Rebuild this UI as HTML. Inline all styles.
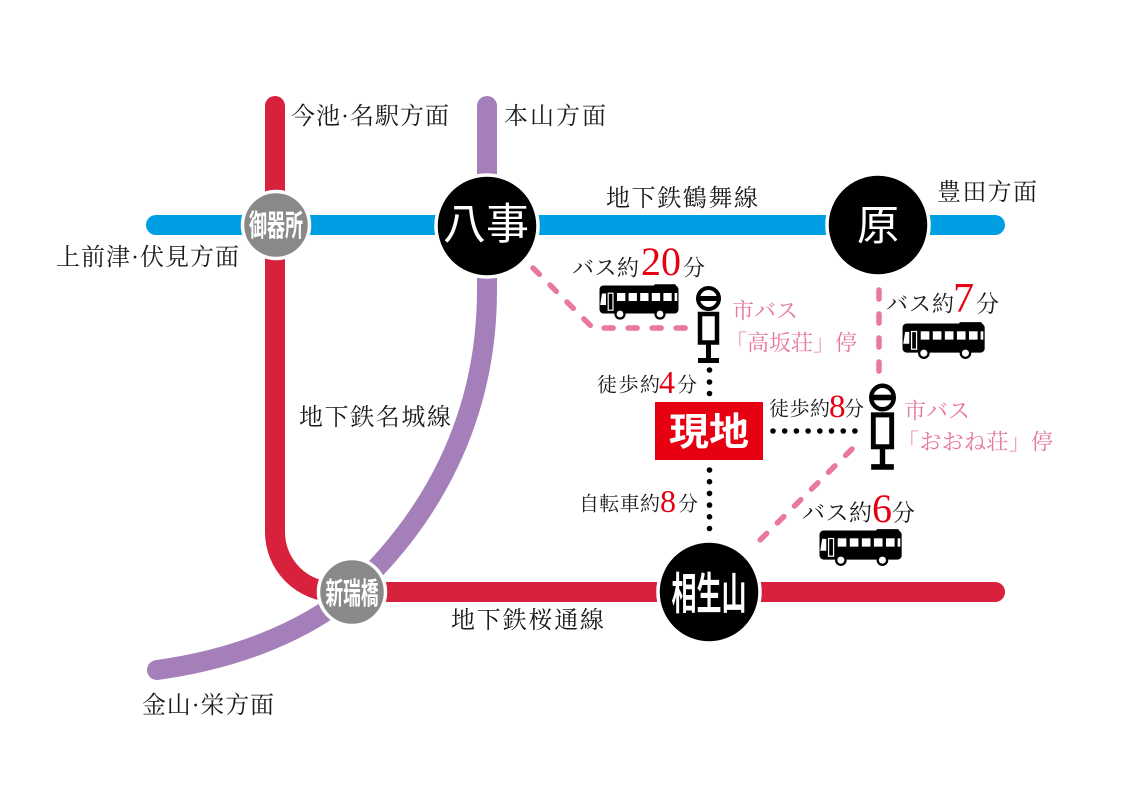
<!DOCTYPE html>
<html><head><meta charset="utf-8">
<style>
html,body{margin:0;padding:0;background:#fff;}
svg{display:block;}
.lb{font-family:"Liberation Serif","Noto Serif CJK SC",serif;fill:#1a1a1a;}
.pk{font-family:"Liberation Serif","Noto Serif CJK SC",serif;fill:#e5789b;}
.dg{font-family:"Liberation Serif",serif;fill:#e60012;}
.st{font-family:"Liberation Sans","Noto Sans CJK JP",sans-serif;fill:#fff;}
</style></head>
<body>
<svg width="1131" height="800" viewBox="0 0 1131 800" xmlns="http://www.w3.org/2000/svg">
<defs>
  <g id="bus">
    <rect x="0.5" y="0.5" width="79" height="28" rx="4" fill="#000"/>
    <rect x="55" y="-0.8" width="22" height="4" rx="1.5" fill="#000"/>
    <polygon points="1.2,20 3,8.5 7,8.5 7,20" fill="#fff"/>
    <rect x="9.2" y="8.2" width="4.8" height="17" fill="none" stroke="#fff" stroke-width="1.2"/>
    <rect x="18" y="8" width="8.3" height="8" fill="#fff"/>
    <rect x="29.6" y="8" width="8.3" height="8" fill="#fff"/>
    <rect x="41.2" y="8" width="8.3" height="8" fill="#fff"/>
    <rect x="52.8" y="8" width="8.3" height="8" fill="#fff"/>
    <rect x="64.4" y="8" width="8.3" height="8" fill="#fff"/>
    <rect x="75.6" y="8" width="2.6" height="8" fill="#fff"/>
    <circle cx="21" cy="29" r="5.6" fill="#000"/>
    <circle cx="21" cy="29" r="3.4" fill="#fff"/>
    <circle cx="61" cy="29" r="5.6" fill="#000"/>
    <circle cx="61" cy="29" r="3.4" fill="#fff"/>
  </g>
  <g id="stop">
    <circle cx="0" cy="0" r="10.5" fill="#fff" stroke="#000" stroke-width="4"/>
    <rect x="-11" y="-2.5" width="22" height="5" fill="#000"/>
    <rect x="-8.5" y="15.5" width="17" height="28.5" fill="#fff" stroke="#000" stroke-width="4.5"/>
    <rect x="-2.5" y="46" width="5" height="15" fill="#000"/>
    <rect x="-10.5" y="59.5" width="21" height="5" fill="#000"/>
  </g>
</defs>

<rect x="0" y="0" width="1131" height="800" fill="#fff"/>

<!-- subway lines -->
<path d="M275,106 L275,532 A60,60 0 0 0 335,592 L995,592" fill="none" stroke="#d8213c" stroke-width="20" stroke-linecap="round"/>
<path d="M487,106 L487,290 C487,420 430,520 352,592 C300,635 230,660 157,670" fill="none" stroke="#a47fb9" stroke-width="20" stroke-linecap="round"/>
<path d="M156,225 L995,225" fill="none" stroke="#009fe3" stroke-width="20" stroke-linecap="round"/>

<!-- pink dashed bus routes -->
<g fill="none" stroke="#e8799c" stroke-width="5.5" stroke-linecap="round" stroke-dasharray="9 15">
  <path d="M533,268 L593,328 L693,328"/>
  <path d="M879,290 L879,377"/>
  <path d="M852,449 L750,550"/>
</g>

<!-- black dotted walking/bike -->
<g fill="#000">
  <circle cx="709.5" cy="370" r="2.8"/>
  <circle cx="709.5" cy="382" r="2.8"/>
  <circle cx="709.5" cy="393.5" r="2.8"/>
  <circle cx="709.5" cy="470" r="2.8"/>
  <circle cx="709.5" cy="481.7" r="2.8"/>
  <circle cx="709.5" cy="493.4" r="2.8"/>
  <circle cx="709.5" cy="505.1" r="2.8"/>
  <circle cx="709.5" cy="516.8" r="2.8"/>
  <circle cx="709.5" cy="528.5" r="2.8"/>
  <circle cx="773" cy="431" r="2.8"/>
  <circle cx="784.7" cy="431" r="2.8"/>
  <circle cx="796.4" cy="431" r="2.8"/>
  <circle cx="808.1" cy="431" r="2.8"/>
  <circle cx="819.8" cy="431" r="2.8"/>
  <circle cx="831.5" cy="431" r="2.8"/>
  <circle cx="843.2" cy="431" r="2.8"/>
  <circle cx="854.9" cy="431" r="2.8"/>
</g>

<!-- stations -->
<circle cx="276" cy="225" r="33.5" fill="#898989" stroke="#fff" stroke-width="3.5"/>
<circle cx="352" cy="592" r="33.5" fill="#898989" stroke="#fff" stroke-width="3.5"/>
<circle cx="487" cy="226" r="51" fill="#000" stroke="#fff" stroke-width="3.5"/>
<circle cx="878" cy="225" r="51" fill="#000" stroke="#fff" stroke-width="3.5"/>
<circle cx="709" cy="592" r="51" fill="#000" stroke="#fff" stroke-width="3.5"/>

<text class="st" x="276" y="236" font-size="30" font-weight="700" text-anchor="middle" textLength="54" lengthAdjust="spacingAndGlyphs">御器所</text>
<text class="st" x="352" y="604" font-size="30" font-weight="700" text-anchor="middle" textLength="53" lengthAdjust="spacingAndGlyphs">新瑞橋</text>
<text class="st" x="709" y="609" font-size="44" font-weight="700" text-anchor="middle" textLength="75" lengthAdjust="spacingAndGlyphs">相生山</text>
<text class="st" x="486" y="239" font-size="43" font-weight="400" text-anchor="middle" textLength="86" lengthAdjust="spacing">八事</text>
<text class="st" x="878" y="240" font-size="42" font-weight="400" text-anchor="middle">原</text>

<!-- 現地 -->
<rect x="655" y="402" width="108" height="58" fill="#e60012"/>
<text class="st" x="709" y="445" font-size="38" font-weight="700" text-anchor="middle" textLength="80" lengthAdjust="spacingAndGlyphs">現地</text>

<!-- bus stops -->
<use href="#stop" transform="translate(708.5,298.5)"/>
<use href="#stop" transform="translate(882.5,397.5) scale(1.08,1.12)"/>

<!-- buses -->
<use href="#bus" transform="translate(599,285)"/>
<use href="#bus" transform="translate(902,323) scale(1.04)"/>
<use href="#bus" transform="translate(819,530) scale(1.04)"/>

<!-- direction / line labels -->
<text class="lb" x="291" y="124" font-size="24" textLength="158" lengthAdjust="spacing">今池·名駅方面</text>
<text class="lb" x="504" y="124" font-size="24" textLength="102" lengthAdjust="spacing">本山方面</text>
<text class="lb" x="606" y="206" font-size="24" textLength="152" lengthAdjust="spacing">地下鉄鶴舞線</text>
<text class="lb" x="937" y="200" font-size="24" textLength="100" lengthAdjust="spacing">豊田方面</text>
<text class="lb" x="56" y="265" font-size="24" textLength="183" lengthAdjust="spacing">上前津·伏見方面</text>
<text class="lb" x="299" y="425" font-size="24" textLength="152" lengthAdjust="spacing">地下鉄名城線</text>
<text class="lb" x="451" y="628" font-size="24" textLength="153" lengthAdjust="spacing">地下鉄桜通線</text>
<text class="lb" x="142" y="713" font-size="24" textLength="132" lengthAdjust="spacing">金山·栄方面</text>

<!-- bus 20 -->
<text class="lb" x="572" y="275.5" font-size="22" textLength="67" lengthAdjust="spacing">バス約</text>
<text class="dg" x="641" y="275" font-size="40">20</text>
<text class="lb" x="683" y="275.5" font-size="22">分</text>

<!-- bus 7 -->
<text class="lb" x="886" y="311.5" font-size="22" textLength="68" lengthAdjust="spacing">バス約</text>
<text class="dg" x="953" y="312" font-size="42">7</text>
<text class="lb" x="976" y="311.5" font-size="23">分</text>

<!-- walk 4 -->
<text class="lb" x="597" y="391.5" font-size="20" textLength="63" lengthAdjust="spacing">徒歩約</text>
<text class="dg" x="659" y="393" font-size="32">4</text>
<text class="lb" x="677" y="391.5" font-size="20">分</text>

<!-- walk 8 -->
<text class="lb" x="769" y="415.5" font-size="20" textLength="61" lengthAdjust="spacing">徒歩約</text>
<text class="dg" x="829" y="417" font-size="33">8</text>
<text class="lb" x="844" y="415.5" font-size="20">分</text>

<!-- bike 8 -->
<text class="lb" x="579" y="510.5" font-size="20" textLength="81" lengthAdjust="spacing">自転車約</text>
<text class="dg" x="660" y="512" font-size="32">8</text>
<text class="lb" x="678" y="510.5" font-size="20">分</text>

<!-- bus 6 -->
<text class="lb" x="802" y="520.5" font-size="23" textLength="70" lengthAdjust="spacing">バス約</text>
<text class="dg" x="872" y="522" font-size="40">6</text>
<text class="lb" x="892" y="520.5" font-size="23">分</text>

<!-- pink bus stop names -->
<text class="pk" x="732" y="318.5" font-size="22" textLength="66" lengthAdjust="spacing">市バス</text>
<text class="pk" x="725" y="350.5" font-size="22" textLength="132" lengthAdjust="spacing">「高坂荘」停</text>
<text class="pk" x="904" y="418.5" font-size="22" textLength="66" lengthAdjust="spacing">市バス</text>
<text class="pk" x="897" y="449.5" font-size="22" textLength="156" lengthAdjust="spacing">「おおね荘」停</text>
</svg>
</body></html>
